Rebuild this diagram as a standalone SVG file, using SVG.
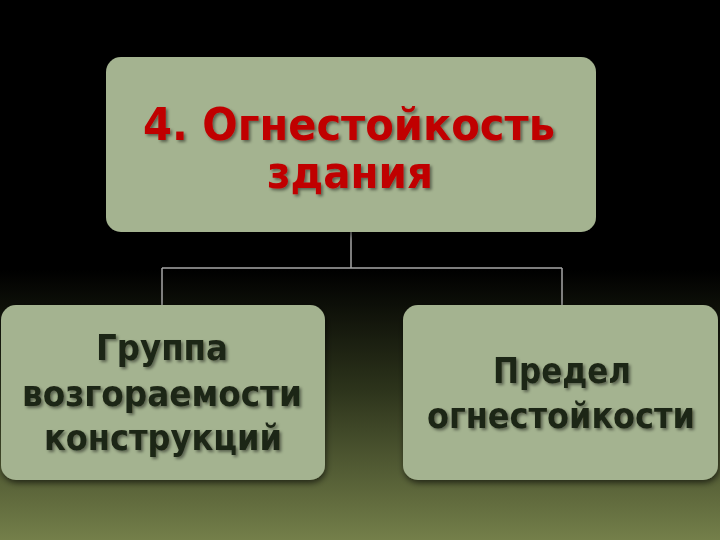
<svg xmlns="http://www.w3.org/2000/svg" width="720" height="540" viewBox="0 0 720 540">
<defs>
<linearGradient id="bg" x1="0" y1="0" x2="0" y2="1">
<stop offset="0" stop-color="#000"/>
<stop offset="0.5" stop-color="#000"/>
<stop offset="0.72" stop-color="#2c331b"/>
<stop offset="1" stop-color="#747f4a"/>
</linearGradient>
<filter id="ts" x="-10%" y="-20%" width="120%" height="150%">
<feDropShadow dx="2" dy="2" stdDeviation="1.5" flood-color="#000" flood-opacity="0.45"/>
</filter>
<filter id="bs" x="-10%" y="-10%" width="120%" height="130%">
<feDropShadow dx="1" dy="3" stdDeviation="3" flood-color="#000" flood-opacity="0.6"/>
</filter>
</defs>
<style>
.box{fill:#a4b390;filter:url(#bs)}
.t{font-family:"DejaVu Sans","Noto Sans",sans-serif;font-weight:bold;text-anchor:middle;filter:url(#ts)}
.red{fill:#c00000;font-size:44px}
.dk{fill:#1d2514;font-size:35px}
.c{fill:none;stroke:#a6a6a6;stroke-width:1.5}
</style>
<rect width="720" height="540" fill="url(#bg)"/>
<g id="connectors">
<path class="c" d="M351 232V268M162 268H562M162 268V305M562 268V305"/>
</g>
<g id="node-top">
<rect class="box" x="106" y="57" width="490" height="175" rx="15"/>
<text class="t red" x="349" y="140" textLength="412" lengthAdjust="spacingAndGlyphs">4. Огнестойкость</text>
<text class="t red" x="350" y="188" textLength="166" lengthAdjust="spacingAndGlyphs">здания</text>
</g>
<g id="node-left">
<rect class="box" x="1" y="305" width="324" height="175" rx="15"/>
<text class="t dk" x="162" y="360" textLength="132" lengthAdjust="spacingAndGlyphs">Группа</text>
<text class="t dk" x="162" y="406" textLength="280" lengthAdjust="spacingAndGlyphs">возгораемости</text>
<text class="t dk" x="163" y="450" textLength="238" lengthAdjust="spacingAndGlyphs">конструкций</text>
</g>
<g id="node-right">
<rect class="box" x="403" y="305" width="315" height="175" rx="15"/>
<text class="t dk" x="562" y="383" textLength="138" lengthAdjust="spacingAndGlyphs">Предел</text>
<text class="t dk" x="561" y="428" font-size="33" textLength="268" lengthAdjust="spacingAndGlyphs">огнестойкости</text>
</g>
</svg>
